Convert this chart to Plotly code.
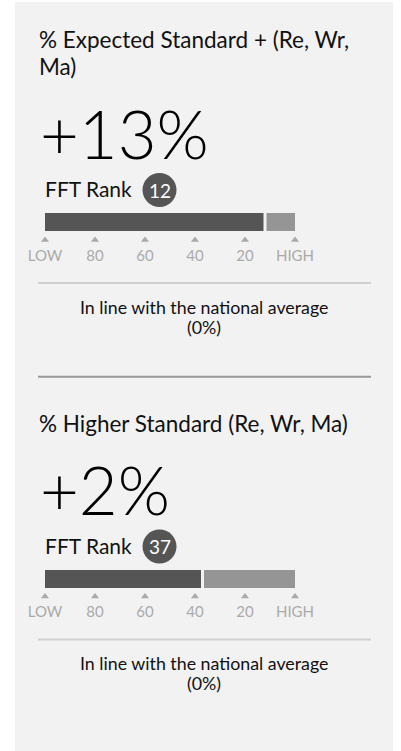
import textwrap
import plotly.graph_objects as go

# ---- data ----
titles = ["% Expected Standard + (Re, Wr, Ma)", "% Higher Standard (Re, Wr, Ma)"]
values = ["+13%", "+2%"]
ranks = [12, 37]
rank_label = "FFT Rank"
tick_vals = [100, 80, 60, 40, 20, 0]
tick_text = ["LOW", "80", "60", "40", "20", "HIGH"]
notes = ["In line with the national average (0%)", "In line with the national average (0%)"]

# ---- layout constants (pixels) ----
W, H = 401, 751
FONT = "Lato"
PANEL_BG = "#f2f2f2"
DARK = "#555555"
LIGHT = "#959595"
offsets = [0, 356.5]


def px(x):
    return x / W


fig = go.Figure()
shapes = []
annotations = []

shapes.append(dict(type="rect", xref="paper", yref="y", x0=px(15), x1=px(393), y0=2, y1=751,
                   fillcolor=PANEL_BG, line=dict(width=0), layer="below"))

for i, off in enumerate(offsets):
    r = ranks[i]
    ybar = 222 + off
    fig.add_trace(go.Bar(y=[ybar], x=[100 - r], base=[r], orientation="h", width=18,
                         marker=dict(color=DARK, line=dict(width=0)), hoverinfo="skip"))
    fig.add_trace(go.Bar(y=[ybar], x=[r], base=[0], orientation="h", width=18,
                         marker=dict(color=LIGHT, line=dict(width=0)), hoverinfo="skip"))
    shapes.append(dict(type="line", xref="x", yref="y", x0=r, x1=r, y0=ybar - 9.5, y1=ybar + 9.5,
                       line=dict(color=PANEL_BG, width=3)))
    fig.add_trace(go.Scatter(x=tick_vals, y=[240 + off] * len(tick_vals), mode="markers",
                             marker=dict(symbol="triangle-up", size=7, color="#aaaaaa"),
                             hoverinfo="skip"))
    fig.add_trace(go.Scatter(x=tick_vals, y=[257 + off] * len(tick_vals), mode="text",
                             text=tick_text, textposition="middle center",
                             textfont=dict(family=FONT, size=15, color="#aaaaaa"),
                             hoverinfo="skip"))
    # title (last line anchored)
    tlines = textwrap.wrap(titles[i], 30)
    for k, line in enumerate(tlines):
        yl = 66.5 + off - 27.3 * (len(tlines) - 1 - k)
        annotations.append(dict(xref="paper", yref="y", x=px(37), y=yl, xanchor="left", yanchor="middle",
                                text=line, showarrow=False, align="left",
                                font=dict(family=FONT, size=22.5, color="#111111")))
    # big value
    annotations.append(dict(xref="paper", yref="y", x=px(38), y=132.5 + off, xanchor="left", yanchor="middle",
                            text=values[i], showarrow=False,
                            font=dict(family=FONT, size=67, color="#000000", weight=300)))
    # FFT rank
    annotations.append(dict(xref="paper", yref="y", x=px(43), y=188.5 + off, xanchor="left", yanchor="middle",
                            text=rank_label, showarrow=False,
                            font=dict(family=FONT, size=21, color="#111111")))
    shapes.append(dict(type="circle", xref="paper", yref="y", x0=px(142.5), x1=px(176.5),
                       y0=173 + off, y1=207 + off, fillcolor=DARK, line=dict(width=0)))
    annotations.append(dict(xref="paper", yref="y", x=px(159.5), y=190 + off, xanchor="center", yanchor="middle",
                            text=str(r), showarrow=False,
                            font=dict(family=FONT, size=19, color="#ffffff")))
    # separator
    shapes.append(dict(type="line", xref="paper", yref="y", x0=px(38), x1=px(371), y0=283 + off, y1=283 + off,
                       line=dict(color="#d0d0d0", width=2)))
    nlines = textwrap.wrap(notes[i], 34)
    for k, line in enumerate(nlines):
        annotations.append(dict(xref="paper", yref="y", x=px(204), y=306.5 + 20.4 * k + off,
                                xanchor="center", yanchor="middle",
                                text=line, showarrow=False, align="center",
                                font=dict(family=FONT, size=17.8, color="#111111")))
    if i < len(offsets) - 1:
        shapes.append(dict(type="line", xref="paper", yref="y", x0=px(38), x1=px(371),
                           y0=376.7 + off, y1=376.7 + off, line=dict(color="#999999", width=2)))

fig.update_layout(
    width=W, height=H, margin=dict(l=0, r=0, t=0, b=0), autosize=False,
    paper_bgcolor="#ffffff", plot_bgcolor="rgba(0,0,0,0)",
    showlegend=False, barmode="overlay", bargap=0,
    xaxis=dict(range=[100 + 45 / 2.5, 100 - (W - 45) / 2.5], domain=[0, 1], visible=False, fixedrange=True),
    yaxis=dict(range=[H, 0], domain=[0, 1], visible=False, fixedrange=True),
    shapes=shapes, annotations=annotations,
)

fig.write_html("out.html", config={"displayModeBar": False, "staticPlot": True},
               post_script="document.body.style.margin='0';")
